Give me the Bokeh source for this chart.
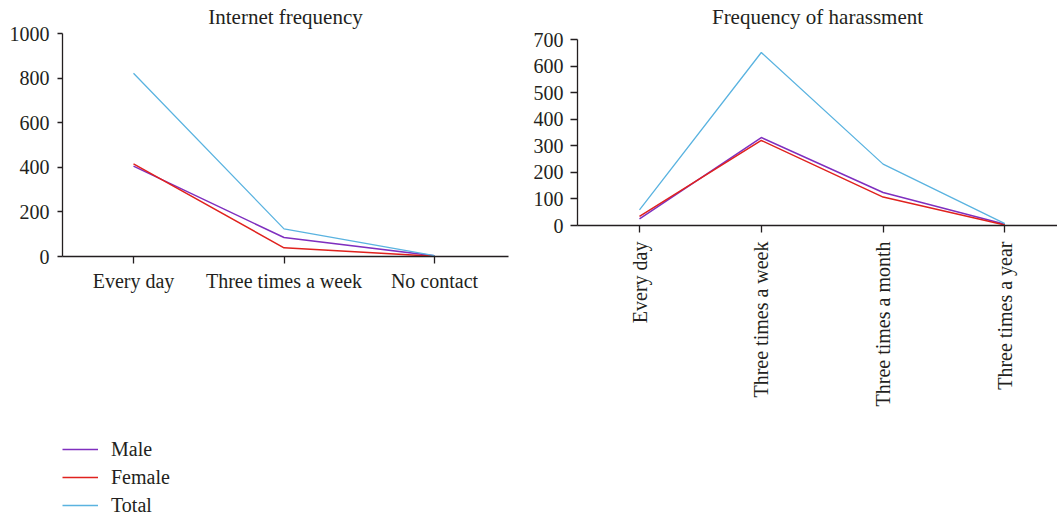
import math
from bokeh.plotting import figure
from bokeh.models import Range1d, Legend, LegendItem, FixedTicker, Title
from bokeh.layouts import row, column
from bokeh.embed import file_html
from bokeh.resources import INLINE

# ---------------- data ----------------
internet_categories = ["Every day", "Three times a week", "No contact"]
internet_male = [405, 85, 3]
internet_female = [415, 39, 1]
internet_total = [822, 124, 4]
internet_yticks = [0, 200, 400, 600, 800, 1000]

harass_categories = ["Every day", "Three times a week", "Three times a month", "Three times a year"]
harass_male = [25, 331, 124, 5]
harass_female = [34, 320, 107, 2]
harass_total = [59, 651, 231, 7]
harass_yticks = [0, 100, 200, 300, 400, 500, 600, 700]

series_names = ["Male", "Female", "Total"]
series_colors = ["#7F2FBF", "#E0221E", "#5AB3E0"]
series_widths = [1.5, 1.5, 1.3]

FONT = "Liberation Serif"
INK = "#231F20"
FS = "20px"
TITLE_FS = "21px"
MT = 30  # common frame top for both charts


def style_axes(p, xtick_out, ytick_out):
    for ax in p.axis:
        ax.axis_line_color = INK
        ax.axis_line_width = 1.3
        ax.major_tick_line_color = INK
        ax.major_tick_line_width = 1.3
        ax.major_tick_in = 0
        ax.minor_tick_line_color = None
        ax.major_label_text_font = FONT
        ax.major_label_text_font_size = FS
        ax.major_label_text_color = INK
    p.xaxis.major_tick_out = xtick_out
    p.yaxis.major_tick_out = ytick_out
    p.grid.visible = False
    p.outline_line_color = None


def add_title(p, text):
    p.add_layout(Title(text=text, align="center", standoff=4,
                       text_font=FONT, text_font_size=TITLE_FS, text_font_style="normal",
                       text_color=INK), "above")


# ---------------- left chart ----------------
W1, H1 = 520, 300
ML1, MR1 = 62, 12
top1, bottom1 = 33, 256          # pixel rows of y=1000 and y=0
ymax1 = internet_yticks[-1]
fh1 = bottom1 - MT
MB1 = H1 - bottom1
fw1 = W1 - ML1 - MR1
step1 = 150.5
x0_1 = -71 / step1
left = figure(width=W1, height=H1, output_backend="svg", toolbar_location=None,
              x_range=Range1d(x0_1, x0_1 + fw1 / step1),
              y_range=Range1d(0, ymax1 * fh1 / (bottom1 - top1)),
              min_border_left=ML1, min_border_right=MR1, min_border_top=MT,
              min_border_bottom=MB1)
xs1 = list(range(len(internet_categories)))
for name, col, lw, vals in zip(series_names, series_colors, series_widths,
                               [internet_male, internet_female, internet_total]):
    left.line(xs1, vals, line_color=col, line_width=lw)
left.xaxis.ticker = FixedTicker(ticks=xs1)
left.xaxis.major_label_overrides = {i: c for i, c in enumerate(internet_categories)}
left.yaxis.ticker = FixedTicker(ticks=internet_yticks)
left.yaxis.bounds = (0, ymax1)
style_axes(left, 7, 5)
left.xaxis.major_label_standoff = 6
left.yaxis.major_label_standoff = 8
add_title(left, "Internet frequency")

# ---------------- legend ----------------
W3, H3 = 520, 215
leg = figure(width=W3, height=H3, output_backend="svg", toolbar_location=None,
             x_axis_location=None, y_axis_location=None, min_border=0,
             x_range=Range1d(0, 1), y_range=Range1d(0, 1))
leg.grid.visible = False
leg.outline_line_color = None
items = []
for name, col, lw in zip(series_names, series_colors, series_widths):
    r = leg.line([0, 1], [float("nan"), float("nan")], line_color=col, line_width=lw)
    items.append(LegendItem(label=name, renderers=[r]))
legend = Legend(items=items, location=(0, -4), orientation="vertical",
                glyph_width=36, glyph_height=28, label_height=28, spacing=0,
                padding=0, margin=0, label_standoff=13,
                border_line_color=None, background_fill_alpha=0,
                label_text_font=FONT, label_text_font_size=FS,
                label_text_color=INK)
leg.add_layout(legend, "center")

# ---------------- right chart ----------------
W2, H2 = 537, 430
ML2, MR2 = 57, 0
top2, bottom2 = 39, 225          # pixel rows of y=700 and y=0
ymax2 = harass_yticks[-1]
fh2 = bottom2 - MT
MB2 = H2 - bottom2
fw2 = W2 - ML2 - MR2
step2 = 121.8
x0_2 = -62 / step2
right = figure(width=W2, height=H2, output_backend="svg", toolbar_location=None,
               x_range=Range1d(x0_2, x0_2 + fw2 / step2),
               y_range=Range1d(0, ymax2 * fh2 / (bottom2 - top2)),
               min_border_left=ML2, min_border_right=MR2, min_border_top=MT,
               min_border_bottom=MB2)
xs2 = list(range(len(harass_categories)))
for name, col, lw, vals in zip(series_names, series_colors, series_widths,
                               [harass_male, harass_female, harass_total]):
    right.line(xs2, vals, line_color=col, line_width=lw)
right.xaxis.ticker = FixedTicker(ticks=xs2)
right.xaxis.major_label_overrides = {i: c for i, c in enumerate(harass_categories)}
right.xaxis.major_label_orientation = math.pi / 2
right.yaxis.ticker = FixedTicker(ticks=harass_yticks)
right.yaxis.bounds = (0, ymax2)
style_axes(right, 7, 7)
right.xaxis.major_label_standoff = 9
right.yaxis.major_label_standoff = 7
add_title(right, "Frequency of harassment")

layout = row(column(left, leg), right)
open("out.html", "w").write(file_html(layout, INLINE))
